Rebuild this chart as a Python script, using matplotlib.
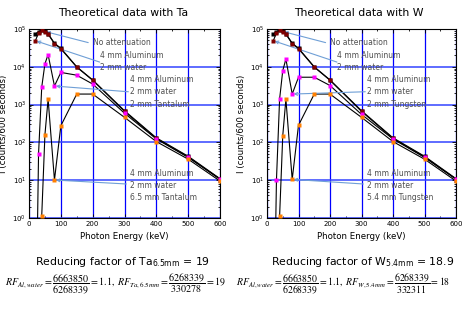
import math

import matplotlib
matplotlib.use("Agg")
import matplotlib.pyplot as plt
from matplotlib.ticker import FixedLocator, LogLocator, FuncFormatter, NullFormatter

plt.rcParams["mathtext.fontset"] = "stix"

# photon energies (keV) shared by every curve
energy = [20, 30, 40, 50, 60, 80, 100, 150, 200, 300, 400, 500, 600]

# counts / 600 s
no_att = [7.4e4, 8.5e4, 9.6e4, 8.6e4, 7.5e4, 4.2e4, 3.1e4, 1.0e4, 4.5e3, 690, 132, 43, 11]
al_water = [4.9e4, 7.8e4, 9.2e4, 8.3e4, 7.3e4, 4.1e4, 3.0e4, 9.8e3, 4.4e3, 660, 127, 41.5, 10.6]
ta_2mm = [1e-4, 50, 2.9e3, 1.2e4, 2.1e4, 3.1e3, 7.1e3, 6.0e3, 3.5e3, 590, 123, 40, 10.7]
ta_65mm = [1e-4, 1e-2, 1.15, 158, 1.4e3, 10.1, 275, 1.9e3, 1.9e3, 460, 105, 36, 9.5]
w_2mm = [1e-4, 10, 1.4e3, 7.9e3, 1.6e4, 1.9e3, 5.3e3, 5.3e3, 3.2e3, 550, 123, 40, 10.7]
w_54mm = [1e-4, 1e-2, 1.1, 150, 1.4e3, 10.5, 283, 1.9e3, 1.9e3, 460, 105, 36, 9.5]

x_ticks = [0, 100, 200, 300, 400, 500, 600]
x_minor = [50, 150, 250, 350, 450, 550]

NARROW = ["Liberation Sans Narrow", "DejaVu Sans"]
GREY = "#505050"
ARROW = "#6f9fd6"


def sci(v, pos):
    return r"$\mathregular{10^{%d}}$" % round(math.log10(v))


def panel(ax, thin, thick, metal, thick_label):
    ax.set_xlim(0, 600)
    ax.set_ylim(1, 1e5)
    ax.set_yscale("log")
    ax.xaxis.set_major_locator(FixedLocator(x_ticks))
    ax.xaxis.set_minor_locator(FixedLocator(x_minor))
    ax.yaxis.set_major_locator(LogLocator(base=10, numticks=10))
    ax.yaxis.set_minor_locator(LogLocator(base=10, subs=range(2, 10), numticks=10))
    ax.yaxis.set_major_formatter(FuncFormatter(sci))
    ax.yaxis.set_minor_formatter(NullFormatter())
    ax.tick_params(which="both", direction="in", top=True, right=True, width=0.6,
                   labelsize=5, pad=2)
    ax.tick_params(which="major", length=3)
    ax.tick_params(which="minor", length=1.6)
    for lab in ax.get_xticklabels() + ax.get_yticklabels():
        lab.set_family(NARROW)
    for s in ax.spines.values():
        s.set_linewidth(0.8)

    ax.xaxis.grid(True, which="major", color="#0000ff", lw=0.9)
    ax.yaxis.grid(True, which="major", color="#3344ff", lw=1.1)
    ax.set_axisbelow(True)

    series = [(no_att, "#000000"), (al_water, "#800000"), (thin, "#ff00ff"), (thick, "#ff8000")]
    for vals, col in series:
        ax.plot(energy, vals, color="black", lw=0.8, zorder=3)
    for vals, col in series:
        ax.plot(energy, vals, ls="none", marker="s", ms=2.3, mec="none", mfc=col, zorder=4)

    ax.set_xlabel("Photon Energy (keV)", fontsize=6.2, family=NARROW, labelpad=4)
    ax.set_ylabel("I (counts/600 seconds)", fontsize=6.2, family=NARROW, labelpad=3)

    aprops = dict(arrowstyle="->", color=ARROW, lw=0.8, shrinkA=0, shrinkB=1,
                  mutation_scale=5)
    tx = dict(fontsize=5.5, color=GREY, va="center", transform=ax.transAxes)
    ax.text(0.335, 0.930, "No attenuation", **tx)
    ax.text(0.372, 0.826, "4 mm Aluminum\n2 mm water", linespacing=1.45, **tx)
    ax.text(0.529, 0.667, "4 mm Aluminum\n2 mm water\n2 mm " + metal, linespacing=1.45, **tx)
    ax.text(0.529, 0.173, "4 mm Aluminum\n2 mm water\n" + thick_label, linespacing=1.45, **tx)

    ax.annotate("", xy=(energy[3], no_att[3]), xytext=(0.31, 0.928),
                textcoords="axes fraction", arrowprops=aprops)
    ax.annotate("", xy=(energy[0], al_water[0]), xytext=(0.37, 0.825),
                textcoords="axes fraction", arrowprops=aprops)
    ax.annotate("", xy=(energy[5], thin[5]), xytext=(0.52, 0.668),
                textcoords="axes fraction", arrowprops=aprops)
    ax.annotate("", xy=(energy[5], thick[5]), xytext=(0.51, 0.18),
                textcoords="axes fraction", arrowprops=aprops)


fig = plt.figure(figsize=(4.62, 3.14), dpi=100)
ax_ta = fig.add_axes([29 / 462, 1 - 218 / 314, 191 / 462, 189 / 314])
ax_w = fig.add_axes([267 / 462, 1 - 218 / 314, 189 / 462, 189 / 314])

panel(ax_ta, ta_2mm, ta_65mm, "Tantalum", "6.5 mm Tantalum")
panel(ax_w, w_2mm, w_54mm, "Tungsten", "5.4 mm Tungsten")

fig.text(122.7 / 462, 1 - 13 / 314, "Theoretical data with Ta", ha="center", va="center",
         fontsize=7.8)
fig.text(358.5 / 462, 1 - 13 / 314, "Theoretical data with W", ha="center", va="center",
         fontsize=7.8)

fig.text(122.5 / 462, 1 - 262 / 314, r"Reducing factor of Ta$_{\mathregular{6.5mm}}$ = 19",
         ha="center", va="center", fontsize=7.8)
fig.text(363 / 462, 1 - 262 / 314, r"Reducing factor of W$_{\mathregular{5.4mm}}$ = 18.9",
         ha="center", va="center", fontsize=7.8)

fig.text(5 / 462, 1 - 284 / 314,
         r"$RF_{Al,water}=\dfrac{6663850}{6268339}=1.1,\ RF_{Ta,6.5mm}=\dfrac{6268339}{330278}=19$",
         ha="left", va="center", fontsize=7.2)
fig.text(236 / 462, 1 - 284 / 314,
         r"$RF_{Al,water}=\dfrac{6663850}{6268339}=1.1,\ RF_{W,5.4mm}=\dfrac{6268339}{332311}=18$",
         ha="left", va="center", fontsize=7.0)

fig.savefig("out.png", dpi=100, facecolor="white")
